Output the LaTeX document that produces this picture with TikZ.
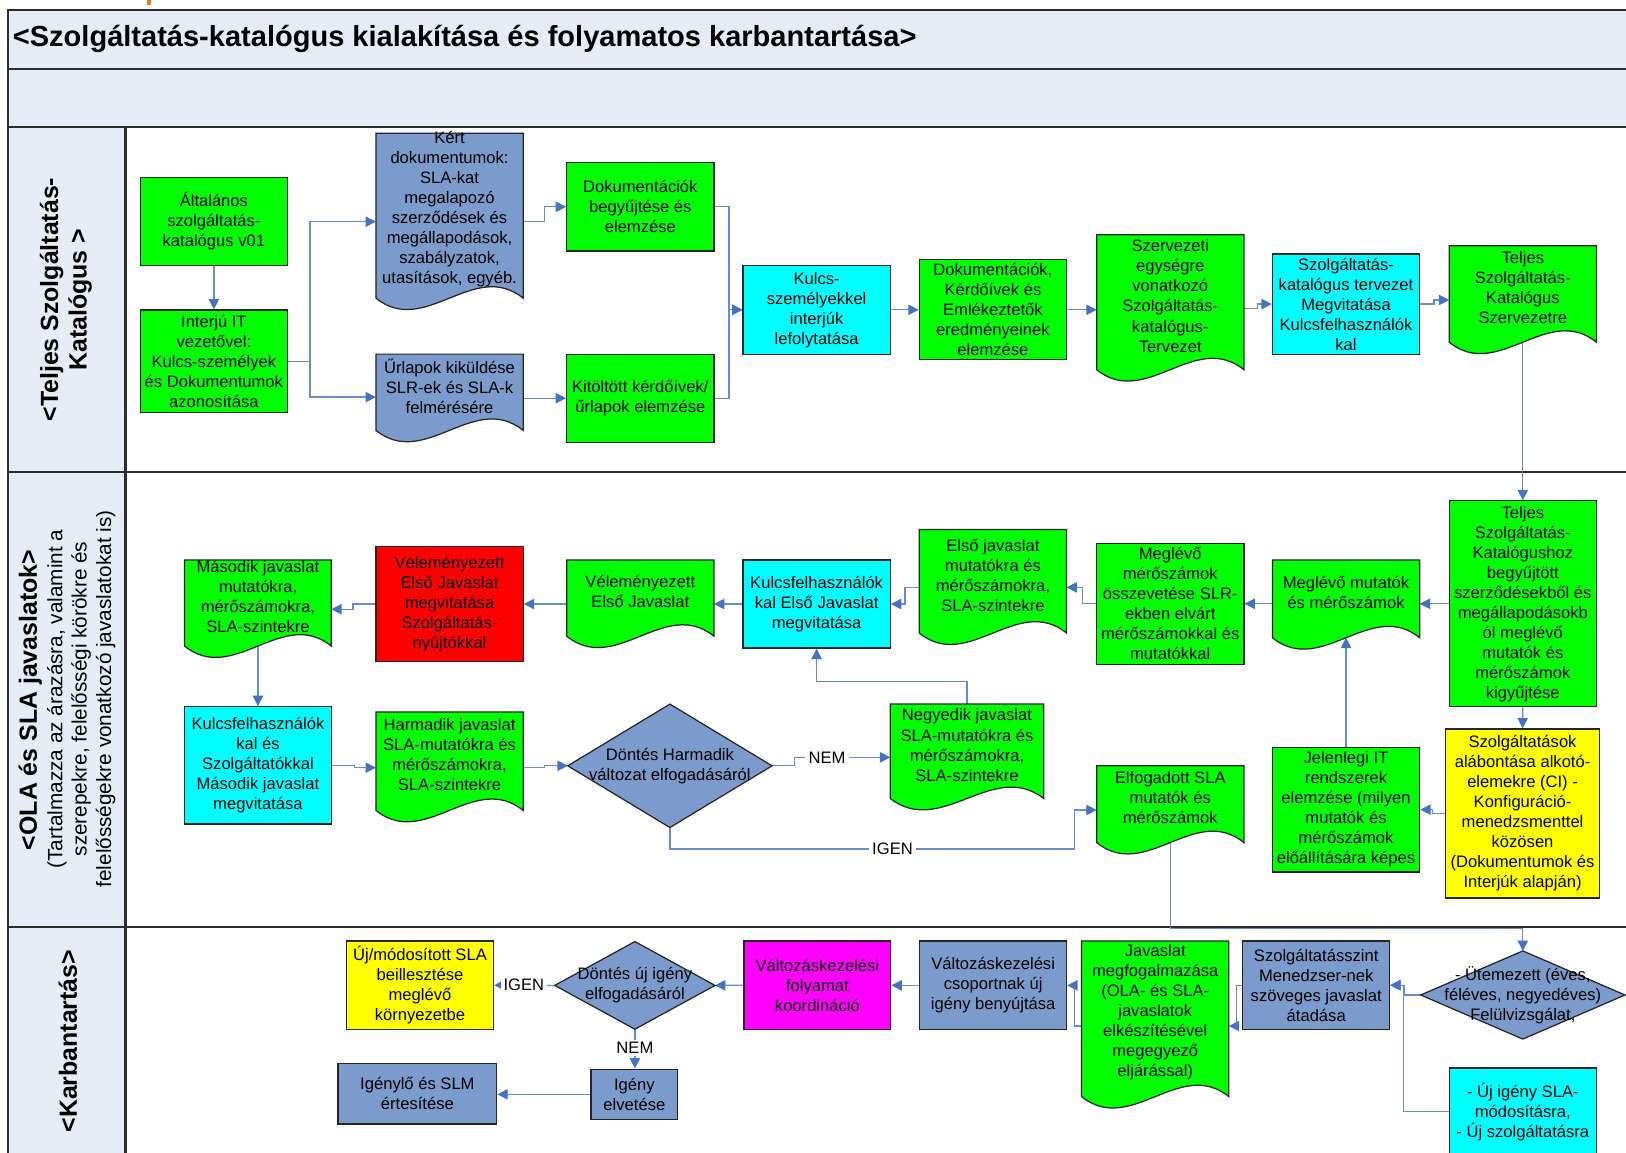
\documentclass[tikz,border=0pt]{standalone}
\usepackage{fontspec}
\setmainfont{Liberation Sans}
\usetikzlibrary{arrows.meta,calc}

\definecolor{procgreen}{RGB}{0,255,0}
\definecolor{proccyan}{RGB}{0,255,255}
\definecolor{procslate}{RGB}{123,155,204}
\definecolor{procred}{RGB}{255,0,0}
\definecolor{procyellow}{RGB}{255,255,0}
\definecolor{procmagenta}{RGB}{255,0,255}
\definecolor{laneband}{RGB}{230,236,246}
\definecolor{laneline}{RGB}{45,45,45}
\definecolor{linkblue}{RGB}{104,141,205}
\definecolor{tipblue}{RGB}{70,114,196}
\definecolor{markorange}{RGB}{240,120,30}

\pgfdeclarelayer{lanes}
\pgfdeclarelayer{links}
\pgfsetlayers{lanes,links,main}

\tikzset{
  boxtext/.style={font=\fontsize{8}{9.65}\selectfont, align=center, inner sep=0pt, text=black},
  shapeline/.style={draw=black!85, line width=0.6pt},
  box/.style={boxtext, shapeline},
  anchorbox/.style={inner sep=0pt, outer sep=0pt},
  laneedge/.style={draw=laneline, line width=1pt},
  flow/.style={draw=linkblue, line width=0.6pt, -{Triangle[length=5pt, width=5pt, color=tipblue]}},
  flowlabel/.style={boxtext, fill=white, inner xsep=1.5pt, inner ysep=1pt},
  lanetitle/.style={rotate=90, align=center, font=\bfseries\fontsize{12}{13.8}\selectfont},
}

% process box: name, fill, x1, y1, x2, y2, text
\newcommand\procbox[7]{%
  \node[box, fill=#2, minimum width={(#5-#3)*0.5pt}, minimum height={(#6-#4)*0.5pt}]
    (#1) at ({(#3+#5)/2},{(#4+#6)/2}) {#7};}

% document shape with wavy lower edge: name, fill, x1, top, x2, mean bottom, text
\newcommand\docbox[7]{%
  \path[shapeline, fill=#2] (#3,#4) -- (#5,#4) -- (#5,#6)
    .. controls ({#5-(#5-#3)/3},{#6-38}) and ({#3+(#5-#3)/3},{#6+38}) .. (#3,#6) -- cycle;
  \node[anchorbox, minimum width={(#5-#3)*0.5pt}, minimum height={(#6-#4)*0.5pt}]
    (#1) at ({(#3+#5)/2},{(#4+#6)/2}) {};
  \node[boxtext] (#1t) at ({(#3+#5)/2},{(#4+#6)/2-6}) {#7};}

% decision diamond: name, x1, y1, x2, y2, text
\newcommand\decisionbox[6]{%
  \node[anchorbox, minimum width={(#4-#2)*0.5pt}, minimum height={(#5-#3)*0.5pt}]
    (#1) at ({(#2+#4)/2},{(#3+#5)/2}) {};
  \path[shapeline, fill=procslate] (#1.north) -- (#1.east) -- (#1.south) -- (#1.west) -- cycle;
  \node[boxtext] (#1t) at (#1.center) {#6};}

\begin{document}
\begin{tikzpicture}[x=0.5pt, y=-0.5pt]
\useasboundingbox (0,0) rectangle (1568,1111);

% swimlane frame
\begin{pgfonlayer}{lanes}
  \fill[laneband] (8,10) rectangle (1572,122.5);
  \fill[laneband] (8,122.5) rectangle (121,1115);
  \draw[laneedge] (1572,10) -- (8,10) -- (8,1115);
  \draw[laneedge] (8,66.5) -- (1572,66.5);
  \draw[laneedge] (8,122.5) -- (1572,122.5);
  \draw[laneedge] (8,455) -- (1572,455);
  \draw[laneedge] (8,894) -- (1572,894);
  \draw[laneedge] (121,122.5) -- (121,1115);
\end{pgfonlayer}
\fill[markorange] (141.5,0) rectangle (145.5,4.5);

\node[anchor=west, inner sep=0pt, font=\bfseries\fontsize{14}{16}\selectfont] (title) at (12,38)
  {<Szolgáltatás-katalógus kialakítása és folyamatos karbantartása>};

\node[lanetitle] (lane1) at (63.5,289) {<Teljes Szolgáltatás-\\Katalógus >};
\node[lanetitle] (lane2) at (29.3,675) {<OLA és SLA javaslatok>};
\node[rotate=90, align=center, font=\fontsize{10}{11.75}\selectfont] (lane2note) at (78.3,674)
  {(Tartalmazza az árazásra, valamint a\\szerepekre, felelősségi körökre és\\felelősségekre vonatkozó javaslatokat is)};
\node[lanetitle] (lane3) at (65.5,1004) {<Karbantartás>};

% lane 1: full service catalogue
\procbox{cat01}{procgreen}{135.5}{171}{277}{256}{Általános\\szolgáltatás-\\katalógus v01}
\procbox{itint}{procgreen}{135.5}{299}{277}{398}{Interjú IT\\vezetővel:\\Kulcs-személyek\\és Dokumentumok\\azonosítása}
\docbox{reqdocs}{procslate}{362.5}{128.5}{504.5}{287.5}{Kért\\dokumentumok:\\SLA-kat\\megalapozó\\szerződések és\\megállapodások,\\szabályzatok,\\utasítások, egyéb.}
\docbox{forms}{procslate}{362.5}{341.5}{504.5}{415}{Űrlapok kiküldése\\SLR-ek és SLA-k\\felmérésére}
\procbox{doccoll}{procgreen}{546.5}{157}{688.5}{242}{Dokumentációk\\begyűjtése és\\elemzése}
\procbox{formeval}{procgreen}{546.5}{341.5}{688.5}{426.5}{Kitöltött kérdőívek/\\űrlapok elemzése}
\procbox{keyint}{proccyan}{716.5}{256}{858.5}{341.5}{Kulcs-\\személyekkel\\interjúk\\lefolytatása}
\procbox{resan}{procgreen}{886.5}{250.5}{1028.5}{347}{Dokumentációk,\\Kérdőívek és\\Emlékeztetők\\eredményeinek\\elemzése}
\docbox{orgdraft}{procgreen}{1057.5}{226.5}{1199.5}{356.5}{Szervezeti\\egységre\\vonatkozó\\Szolgáltatás-\\katalógus-\\Tervezet}
\procbox{draftdisc}{proccyan}{1227}{245}{1369}{341.5}{Szolgáltatás-\\katalógus tervezet\\Megvitatása\\Kulcsfelhasználók\\kal}
\docbox{fullcat}{procgreen}{1397.5}{237}{1539.5}{330}{Teljes\\Szolgáltatás-\\Katalógus\\Szervezetre}

% lane 2: OLA and SLA proposals
\procbox{collect}{procgreen}{1397.5}{483}{1539.5}{681.5}{Teljes\\Szolgáltatás-\\Katalógushoz\\begyűjtött\\szerződésekből és\\megállapodásokb\\ól meglévő\\mutatók és\\mérőszámok\\kigyűjtése}
\procbox{cisplit}{procyellow}{1394}{703}{1542.5}{866}{Szolgáltatások\\alábontása alkotó-\\elemekre (CI) -\\Konfiguráció-\\menedzsmenttel\\közösen\\(Dokumentumok és\\Interjúk alapján)}
\procbox{itsys}{procgreen}{1227}{720.5}{1369}{841}{Jelenlegi IT\\rendszerek\\elemzése (milyen\\mutatók és\\mérőszámok\\előállítására képes}
\docbox{exist}{procgreen}{1227}{540}{1369}{615}{Meglévő mutatók\\és mérőszámok}
\procbox{compare}{procgreen}{1057.5}{524}{1199.5}{640.5}{Meglévő\\mérőszámok\\összevetése SLR-\\ekben elvárt\\mérőszámokkal és\\mutatókkal}
\docbox{agreed}{procgreen}{1057.5}{738.5}{1199.5}{812.5}{Elfogadott SLA\\mutatók és\\mérőszámok}
\docbox{first}{procgreen}{886.5}{510.5}{1028.5}{610.5}{Első javaslat\\mutatókra és\\mérőszámokra,\\SLA-szintekre}
\procbox{firstdisc}{proccyan}{716.5}{540}{858.5}{625}{Kulcsfelhasználók\\kal Első Javaslat\\megvitatása}
\docbox{fourth}{procgreen}{858.5}{679}{1006.5}{770}{Negyedik javaslat\\SLA-mutatókra és\\mérőszámokra,\\SLA-szintekre}
\decisionbox{dec3}{547.5}{679}{744.5}{798}{Döntés Harmadik\\változat elfogadásáról}
\docbox{firstrev}{procgreen}{546.5}{540}{688.5}{613.5}{Véleményezett\\Első Javaslat}
\procbox{firstprov}{procred}{362.5}{527}{504.5}{638}{Véleményezett\\Első Javaslat\\megvitatása\\Szolgáltatás-\\nyújtókkal}
\docbox{second}{procgreen}{178}{540}{319.5}{623}{Második javaslat\\mutatókra,\\mérőszámokra,\\SLA-szintekre}
\procbox{seconddisc}{proccyan}{178}{681.5}{319.5}{794.5}{Kulcsfelhasználók\\kal és\\Szolgáltatókkal\\Második javaslat\\megvitatása}
\docbox{third}{procgreen}{362.5}{686.5}{504.5}{781.5}{Harmadik javaslat\\SLA-mutatókra és\\mérőszámokra,\\SLA-szintekre}

% lane 3: maintenance
\procbox{newsla}{procyellow}{334}{907.5}{476}{992.5}{Új/módosított SLA\\beillesztése\\meglévő\\környezetbe}
\decisionbox{dec}{535}{908}{689.5}{992.5}{Döntés új igény\\elfogadásáról}
\procbox{reject}{procslate}{570}{1031}{653.5}{1079.5}{Igény\\elvetése}
\procbox{notify}{procslate}{326}{1025.5}{479}{1084}{Igénylő és SLM\\értesítése}
\procbox{chgcoord}{procmagenta}{717.5}{907.5}{859}{992.5}{Változáskezelési\\folyamat\\koordináció}
\procbox{chgsubmit}{procslate}{887}{907.5}{1028.5}{993}{Változáskezelési\\csoportnak új\\igény benyújtása}
\docbox{propose}{procgreen}{1043}{907.5}{1185}{1057.5}{Javaslat\\megfogalmazása\\(OLA- és SLA-\\javaslatok\\elkészítésével\\megegyező\\eljárással)}
\procbox{slmhand}{procslate}{1198.5}{907.5}{1340}{992.5}{Szolgáltatásszint\\Menedzser-nek\\szöveges javaslat\\átadása}
\decisionbox{review}{1370}{917}{1567}{1002}{- Ütemezett (éves,\\féléves, negyedéves)\\Felülvizsgálat,}
\procbox{newreq}{proccyan}{1397.5}{1030}{1539.5}{1114}{- Új igény SLA-\\módosításra,\\- Új szolgáltatásra}

% connectors
\begin{pgfonlayer}{links}
  % lane 1
  \draw[flow] (cat01) -- (itint);
  \draw[flow] (itint.east) -- ++(21.3,0) |- ([yshift=-2.9pt]reqdocs.west);
  \draw[flow] (itint.east) -- ++(21.3,0) |- ([yshift=-2.35pt]forms.west);
  \draw[flow] ([yshift=-2.9pt]reqdocs.east) -- ++(20.5,0) |- (doccoll.west);
  \draw[flow] (forms.east |- formeval.west) -- (formeval.west);
  \draw[flow] (doccoll.east) -- ++(14,0) |- (keyint.west);
  \draw[flow] (formeval.east) -- ++(14,0) |- (keyint.west);
  \draw[flow] (keyint.east) -- (resan.west);
  \draw[flow] (resan.east) -- (orgdraft.west |- resan.east);
  \draw[flow] ([yshift=-2.9pt]orgdraft.east) -- ++(13,0) |- (draftdisc.west);
  \draw[flow] (draftdisc.east) -- ++(13.3,0) |- ([yshift=-2.9pt]fullcat.west);
  \draw[flow] (fullcat.south) -- (collect.north);
  % lane 2
  \draw[flow] (collect.south) -- (cisplit.north);
  \draw[flow] (collect.west) -- (collect.west -| exist.east);
  \draw[flow] (exist.west |- compare.east) -- (compare.east);
  \draw[flow] (cisplit.west) -- ++(-12,0) |- (itsys.east);
  \draw[flow] (itsys.north) -- (exist.south);
  \draw[flow] (compare.west) -- ++(-13.2,0) |- ([yshift=-2.95pt]first.east);
  \draw[flow] ([yshift=-2.95pt]first.west) -- ++(-13.8,0) |- (firstdisc.east);
  \draw[flow] (firstdisc.west) -- (firstdisc.west -| firstrev.east);
  \draw[flow] (firstrev.west |- firstprov.east) -- (firstprov.east);
  \draw[flow] (firstprov.west) -- ++(-21.5,0) |- ([yshift=-3pt]second.east);
  \draw[flow] (second.south) -- (seconddisc.north);
  \draw[flow] (seconddisc.east) -- ++(21.5,0) |- ([yshift=-3.15pt]third.west);
  \draw[flow] ([yshift=-3.15pt]third.east) -- ++(20.5,0) |- (dec3.west);
  \draw[flow] (dec3.east) -- ++(21.5,0) |- node[flowlabel, pos=0.67] (nem3) {NEM} ([yshift=-2.9pt]fourth.west);
  \draw[flow] (fourth.north) -- ++(0,-21.7) -| (firstdisc.south);
  \draw[flow] (dec3.south) -- ++(0,20.7) -- node[flowlabel, pos=0.55] (igen3) {IGEN} ++(390.3,0) |- ([yshift=-2.8pt]agreed.west);
  \draw[flow] (agreed.south) -- ++(0,82.7) -| (review.north);
  % lane 3
  \draw[flow] (review.west) -- ++(-16.2,0) |- (slmhand.east);
  \draw[flow] (newreq.west) -- ++(-43.6,0) |- (slmhand.east);
  \draw[flow] (slmhand.west) -- ++(-5.5,0) |- ([yshift=-3.45pt]propose.east);
  \draw[flow] ([yshift=-3.45pt]propose.west) -- ++(-6.8,0) |- (chgsubmit.east);
  \draw[flow] (chgsubmit.west) -- (chgsubmit.west -| chgcoord.east);
  \draw[flow] (chgcoord.west) -- (dec.east);
  \draw[flow] (dec.west) -- node[flowlabel, pos=0.51] (igen) {IGEN} (newsla.east);
  \draw[flow] (dec.south) -- node[flowlabel, pos=0.48] (nem) {NEM} (dec.south |- reject.north);
  \draw[flow] (reject.west) -- (reject.west -| notify.east);
\end{pgfonlayer}
\end{tikzpicture}
\end{document}
